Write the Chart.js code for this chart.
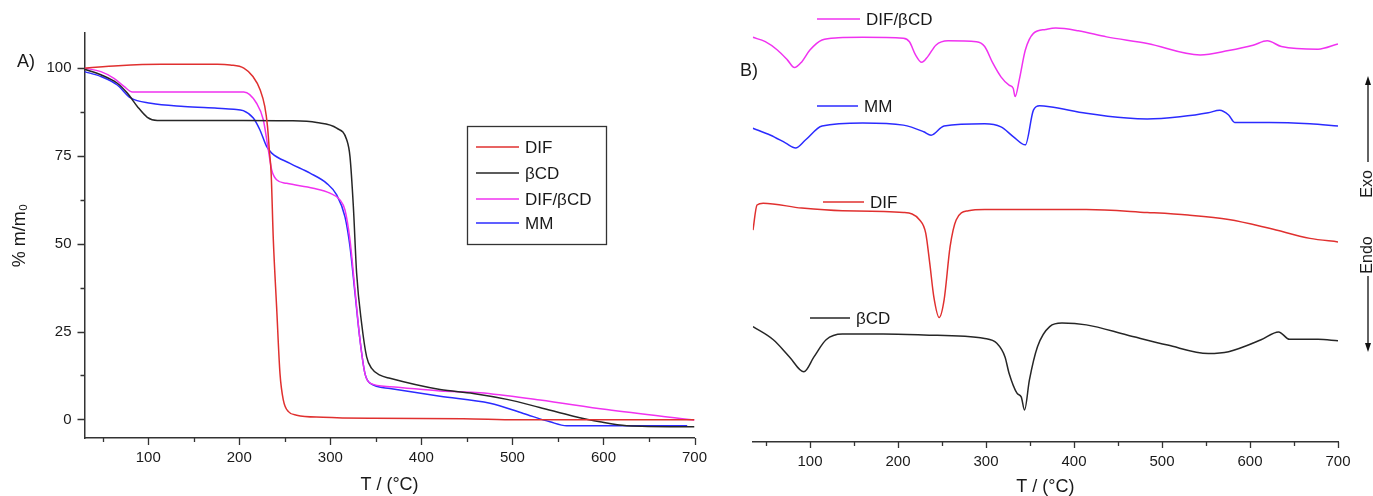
<!DOCTYPE html>
<html>
<head>
<meta charset="utf-8">
<script src="https://cdn.jsdelivr.net/npm/chart.js@4.4.0/dist/chart.umd.min.js"></script>
<style>
  html, body { margin: 0; padding: 0; background: #fff; }
  #wrap { position: relative; width: 1373px; height: 496px; }
  .panel { position: absolute; top: 0; height: 496px; }
  #pa { left: 0; width: 730px; }
  #pb { left: 700px; width: 673px; }
</style>
</head>
<body>
<div id="wrap">
  <div class="panel" id="pa"><canvas id="chartA"></canvas></div>
  <div class="panel" id="pb"><canvas id="chartB"></canvas></div>
</div>
<script>
// series names and colours
const names = ["DIF", "βCD", "DIF/βCD", "MM"];
const colors = ["#e0302f", "#262626", "#f032f0", "#2b2bff"];

// A) TGA: temperature (°C) and remaining mass (%)
const difT_A = [30, 67, 114, 176, 190, 205, 215, 223, 228, 231, 233, 235, 237.4, 241, 244.7, 248.4, 254, 263, 292, 347, 446, 505, 600, 700];
const difM_A = [100, 100.7, 101.1, 101.1, 100.9, 100.0, 97.6, 93.8, 89.1, 83.4, 76.7, 70.1, 51.1, 32.1, 13.1, 5.5, 2.2, 1.2, 0.6, 0.3, 0.2, -0.1, -0.1, -0.1];
const bcdT_A = [30, 48, 66, 77, 88, 99, 110, 205, 259, 285, 307, 318, 321.6, 325.3, 328.9, 334.4, 339.9, 345.4, 354.5, 365.5, 420.5, 457, 494, 530, 567, 596, 625.5, 700];
const bcdM_A = [99.7, 98.1, 95.7, 92.9, 89.1, 86.0, 85.1, 85.1, 85.0, 84.5, 82.9, 79.6, 74.8, 60.6, 41.6, 27.3, 17.8, 14.5, 12.6, 11.7, 8.5, 7.4, 5.7, 3.4, 0.9, -0.7, -1.8, -2.1];
const mixT_A = [30, 48, 62.4, 73.4, 82.5, 205, 219, 226.4, 231.9, 235.6, 241, 252, 281.3, 299.6, 310.6, 316.1, 321.6, 327.1, 332.6, 338, 343.6, 365.5, 420.5, 464.4, 530.3, 603.6, 700];
const mixM_A = [100, 99.0, 97.1, 94.8, 93.2, 93.2, 90.0, 85.3, 76.7, 71.0, 68.2, 67.2, 65.8, 64.4, 62.5, 59.6, 51.1, 36.8, 22.6, 13.1, 10.3, 9.3, 8.1, 7.6, 5.5, 2.8, -0.2];
const mmT_A = [30, 48, 66, 80.7, 102.7, 139.3, 175.9, 194, 204.4, 215.4, 222.7, 230, 235.6, 255.7, 277.7, 296, 307, 316.1, 321.6, 327.1, 332.6, 338, 343.6, 365.5, 420.5, 475.4, 512, 541.3, 559.6, 692];
const mmM_A = [99.0, 97.6, 95.2, 91.5, 90.0, 89.1, 88.6, 88.3, 87.9, 85.8, 82.4, 77.7, 75.8, 72.9, 70.1, 67.2, 63.9, 57.7, 49.2, 35.9, 22.6, 13.1, 10.3, 8.8, 6.6, 4.6, 1.7, -0.7, -1.8, -1.8];

// B) DSC: temperature (°C) and heat flow (arbitrary units, curves offset)
const mixT_B = [35, 49.2, 62.9, 74.5, 82.3, 90.6, 99.9, 113.7, 132.2, 159.9, 206.1, 213, 219.9, 226.9, 233.8, 243, 256.9, 289.2, 298.5, 307.8, 317, 326.2, 330.9, 333.1, 337.8, 344.7, 353.9, 367.8, 379.3, 404.8, 437.1, 483.3, 543.4, 575.7, 603.5, 619.6, 635.7, 677.3, 700];
const mixH_B = [91.5, 90.5, 88.6, 86.3, 84.6, 85.9, 88.6, 90.9, 91.4, 91.5, 91.3, 90.5, 87.5, 85.8, 87.1, 89.7, 90.7, 90.5, 89.4, 85.6, 82.5, 80.6, 79.9, 78.0, 81.8, 88.6, 92.4, 93.3, 93.6, 93.0, 91.6, 90.1, 87.5, 88.5, 89.7, 90.7, 89.4, 88.8, 90.0];
const mmT_B = [35, 55.3, 72.5, 83.6, 94.8, 113.7, 159.9, 206.1, 229.2, 237.6, 252.3, 298.5, 317, 330.9, 344.7, 353.9, 360.9, 372.4, 414, 460.2, 483.3, 520.3, 552.6, 565.5, 575.7, 582.6, 621.9, 668.1, 700];
const mmH_B = [70.8, 69.2, 67.4, 66.3, 68.1, 71.3, 72.0, 71.5, 70.0, 69.2, 71.3, 71.8, 71.1, 68.9, 67.0, 74.9, 75.9, 75.7, 74.2, 73.1, 72.9, 73.4, 74.3, 74.9, 73.8, 72.1, 72.1, 71.8, 71.3];
const difT_B = [35.2, 39.8, 46.8, 90.6, 136.8, 206.1, 224.6, 231.5, 236.1, 240.7, 246.8, 252.4, 259.2, 266.1, 280, 298.5, 414, 483.3, 529.5, 575.7, 621.9, 668.1, 700];
const difH_B = [47.6, 53.3, 53.7, 52.6, 52.0, 51.6, 49.9, 46.9, 40.0, 32.4, 27.7, 31.7, 43.8, 49.9, 52.0, 52.3, 52.3, 51.6, 51.0, 50.0, 48.0, 45.7, 44.9];
const bcdT_B = [35.2, 58.3, 76.7, 93, 104.5, 118.3, 136.8, 183, 229.2, 298.5, 312.3, 321.6, 326.2, 335.4, 340, 343.8, 349.3, 358.5, 372.4, 386.3, 414, 460.2, 506.4, 552.6, 575.7, 612.6, 632.5, 645, 677.3, 700];
const bcdH_B = [25.6, 22.6, 18.7, 15.3, 18.7, 22.6, 23.9, 23.9, 23.7, 22.9, 21.8, 18.7, 15.0, 10.4, 9.6, 6.6, 13.4, 21.0, 25.6, 26.4, 26.0, 23.7, 21.4, 19.5, 19.9, 22.6, 24.4, 22.7, 22.7, 22.4];

// tick values
const xMajor = [100, 200, 300, 400, 500, 600, 700];
const xMinor = [50, 150, 250, 350, 450, 550, 650];
const yMajorA = [0, 25, 50, 75, 100];
const yMinorA = [12.5, 37.5, 62.5, 87.5];

const FONT = "'Liberation Sans', Arial, sans-serif";
const AXIS = "#333";
const TEXT = "#1a1a1a";

const pts = (xs, ys) => xs.map((x, i) => ({ x: x, y: ys[i] }));

const line = (label, data, color) => ({
  label: label,
  data: data,
  borderColor: color,
  borderWidth: 1.5,
  pointRadius: 0,
  fill: false,
  cubicInterpolationMode: "monotone",
});

function drawTicks(chart, id, values, len) {
  const s = chart.scales[id];
  const a = chart.chartArea;
  const ctx = chart.ctx;
  ctx.save();
  ctx.strokeStyle = AXIS;
  ctx.lineWidth = 1.3;
  ctx.beginPath();
  values.forEach((v) => {
    const p = Math.round(s.getPixelForValue(v)) + 0.5;
    if (s.isHorizontal()) {
      ctx.moveTo(p, a.bottom);
      ctx.lineTo(p, a.bottom + len);
    } else {
      ctx.moveTo(a.left, p);
      ctx.lineTo(a.left - len, p);
    }
  });
  ctx.stroke();
  ctx.restore();
}

function legendRow(ctx, x1, x2, y, color, text, size) {
  ctx.strokeStyle = color;
  ctx.lineWidth = 1.5;
  ctx.beginPath();
  ctx.moveTo(x1, y);
  ctx.lineTo(x2, y);
  ctx.stroke();
  ctx.fillStyle = TEXT;
  ctx.font = size + "px " + FONT;
  ctx.textAlign = "left";
  ctx.textBaseline = "middle";
  ctx.fillText(text, x2 + 6, y + 1);
}

const decorA = {
  id: "decorA",
  afterDraw(chart) {
    drawTicks(chart, "x", xMajor, 7);
    drawTicks(chart, "x", xMinor, 4);
    drawTicks(chart, "y", yMajorA, 7);
    drawTicks(chart, "y", yMinorA, 4);
    const ctx = chart.ctx;
    ctx.save();
    ctx.fillStyle = TEXT;
    ctx.font = "18px " + FONT;
    ctx.textBaseline = "middle";
    ctx.fillText("A)", 17, 62);
    // legend box
    ctx.strokeStyle = AXIS;
    ctx.lineWidth = 1.3;
    ctx.strokeRect(467.5, 126.5, 139, 118);
    const rows = [147, 173, 199, 223];
    names.forEach((n, i) => legendRow(ctx, 476, 519, rows[i], colors[i], n, 17));
    ctx.restore();
  },
};

const decorB = {
  id: "decorB",
  afterDraw(chart) {
    drawTicks(chart, "x", xMajor, 6);
    drawTicks(chart, "x", xMinor, 4);
    const ctx = chart.ctx;
    ctx.save();
    ctx.fillStyle = TEXT;
    ctx.font = "18px " + FONT;
    ctx.textBaseline = "middle";
    ctx.fillText("B)", 40, 71);
    // labels next to each curve
    legendRow(ctx, 117, 160, 19, colors[2], names[2], 17);
    legendRow(ctx, 117, 158, 106, colors[3], names[3], 17);
    legendRow(ctx, 123, 164, 202, colors[0], names[0], 17);
    legendRow(ctx, 110, 150, 318, colors[1], names[1], 17);
    // Exo / Endo arrow
    const ax = 668;
    ctx.strokeStyle = "#111";
    ctx.fillStyle = "#111";
    ctx.lineWidth = 1.3;
    ctx.beginPath();
    ctx.moveTo(ax, 162);
    ctx.lineTo(ax, 82);
    ctx.moveTo(ax, 276);
    ctx.lineTo(ax, 346);
    ctx.stroke();
    ctx.beginPath();
    ctx.moveTo(ax, 76);
    ctx.lineTo(ax - 3, 85);
    ctx.lineTo(ax + 3, 85);
    ctx.closePath();
    ctx.moveTo(ax, 352);
    ctx.lineTo(ax - 3, 343);
    ctx.lineTo(ax + 3, 343);
    ctx.closePath();
    ctx.fill();
    ctx.font = "16px " + FONT;
    ctx.textAlign = "center";
    ctx.fillStyle = TEXT;
    ctx.translate(ax, 0);
    ctx.rotate(-Math.PI / 2);
    ctx.fillText("Exo", -184, 0);
    ctx.fillText("Endo", -255, 0);
    ctx.restore();
  },
};

const tickFont = { family: FONT, size: 15 };
const titleFont = { family: FONT, size: 18 };

const xAxis = (height, min, pad, titlePad) => ({
  type: "linear",
  min: min,
  max: 700,
  afterBuildTicks: (s) => { s.ticks = xMajor.map((v) => ({ value: v })); },
  afterFit: (s) => {
    // fixed box; no extra room for the last tick label
    s.height = height;
    s.paddingLeft = 0;
    s.paddingRight = 0;
  },
  grid: { display: false, drawTicks: false },
  border: { display: true, color: AXIS, width: 1.5 },
  ticks: { font: tickFont, color: TEXT, padding: pad, autoSkip: false, maxRotation: 0 },
  title: { display: true, text: "T / (°C)", font: titleFont, color: TEXT, padding: titlePad },
});

const chartA = new Chart("chartA", {
  type: "line",
  data: {
    datasets: [
      line(names[0], pts(difT_A, difM_A), colors[0]),
      line(names[1], pts(bcdT_A, bcdM_A), colors[1]),
      line(names[2], pts(mixT_A, mixM_A), colors[2]),
      line(names[3], pts(mmT_A, mmM_A), colors[3]),
    ],
  },
  options: {
    responsive: true,
    maintainAspectRatio: false,
    animation: false,
    layout: { autoPadding: false, padding: { left: 0, right: 35.5, top: 33, bottom: 0 } },
    plugins: { legend: { display: false }, tooltip: { enabled: false } },
    scales: {
      x: xAxis(58, 30, 11, { top: 0, bottom: 0 }),
      y: {
        type: "linear",
        min: -5.3,
        max: 110,
        afterBuildTicks: (s) => { s.ticks = yMajorA.map((v) => ({ value: v })); },
        afterFit: (s) => {
          s.width = 84.5;
          s.paddingTop = 0;
          s.paddingBottom = 0;
        },
        grid: { display: false, drawTicks: false },
        border: { display: true, color: AXIS, width: 1.5 },
        ticks: { font: tickFont, color: TEXT, padding: 13 },
        title: { display: true, text: "% m/m₀", font: titleFont, color: TEXT, padding: { top: 9, bottom: 0 } },
      },
    },
  },
  plugins: [decorA],
});

const chartB = new Chart("chartB", {
  type: "line",
  data: {
    datasets: [
      line(names[0], pts(difT_B, difH_B), colors[0]),
      line(names[1], pts(bcdT_B, bcdH_B), colors[1]),
      line(names[2], pts(mixT_B, mixH_B), colors[2]),
      line(names[3], pts(mmT_B, mmH_B), colors[3]),
    ],
  },
  options: {
    responsive: true,
    maintainAspectRatio: false,
    animation: false,
    layout: { autoPadding: false, padding: { left: 52.8, right: 35, top: 0, bottom: 0 } },
    plugins: { legend: { display: false }, tooltip: { enabled: false } },
    scales: {
      x: xAxis(54, 35, 11, { top: 0, bottom: -2 }),
      y: { type: "linear", display: false, min: -0.68, max: 100 },
    },
  },
  plugins: [decorB],
});
</script>
</body>
</html>
